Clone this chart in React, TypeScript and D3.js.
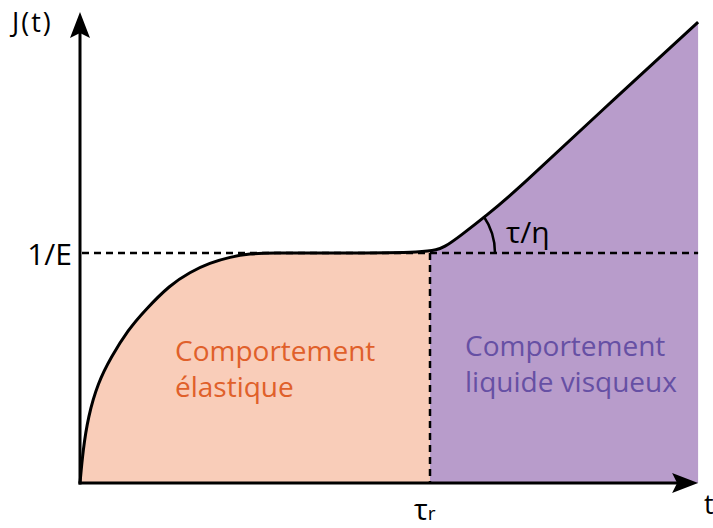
import React, { useEffect, useRef } from 'react';
import * as d3 from 'd3';

// creep compliance J(t) (t in units of tau_r, J in units of 1/E)
const elasticT = [0, 0.0086, 0.023, 0.051, 0.089, 0.137, 0.186, 0.257, 0.314, 0.371, 0.429, 0.486, 0.543, 0.714, 1];
const elasticJ = [0, 0.143, 0.287, 0.435, 0.548, 0.665, 0.752, 0.861, 0.917, 0.957, 0.983, 0.997, 1, 1, 1];
const viscousT = [1, 1.043, 1.086, 1.163, 1.249, 1.486, 1.766];
const viscousJ = [1, 1.026, 1.074, 1.165, 1.274, 1.613, 2.004];

const xAxisMax = 1.766;
const yAxisMax = 2.048;

const elasticLines = ['Comportement', 'élastique'];
const viscousLines = ['Comportement', 'liquide visqueux'];

const W = 713;
const H = 528;
const FONT = '"Open Sans", sans-serif';

const App = () => {
  const svgRef = useRef<SVGSVGElement | null>(null);

  useEffect(() => {
    if (!svgRef.current) return;
    const svg = d3.select(svgRef.current);
    svg.selectAll('*').remove();

    const x = d3.scaleLinear().domain([0, 1]).range([80, 430]);
    const y = d3.scaleLinear().domain([0, 1]).range([483, 253]);

    const elastic = elasticT.map((t, i) => [t, elasticJ[i]] as [number, number]);
    const viscous = viscousT.map((t, i) => [t, viscousJ[i]] as [number, number]);
    const all = elastic.concat(viscous.slice(1));

    const area = d3.area<[number, number]>()
      .x(d => x(d[0]))
      .y0(y(0))
      .y1(d => y(d[1]))
      .curve(d3.curveBasis);

    const line = d3.line<[number, number]>()
      .x(d => x(d[0]))
      .y(d => y(d[1]))
      .curve(d3.curveBasis);

    // fills: one area under the whole curve, clipped left / right of tau_r
    const defs = svg.append('defs');
    defs.append('clipPath').attr('id', 'clip-left')
      .append('rect').attr('x', 0).attr('y', 0).attr('width', x(1)).attr('height', H);
    defs.append('clipPath').attr('id', 'clip-right')
      .append('rect').attr('x', x(1)).attr('y', 0).attr('width', W - x(1)).attr('height', H);

    svg.append('path').attr('d', area(all)).attr('fill', '#f9cdb9').attr('clip-path', 'url(#clip-left)');
    svg.append('path').attr('d', area(all)).attr('fill', '#b89ccb').attr('clip-path', 'url(#clip-right)');

    // dashed guides
    svg.append('line')
      .attr('x1', x(0) + 2).attr('x2', x(xAxisMax))
      .attr('y1', y(1)).attr('y2', y(1))
      .attr('stroke', '#000').attr('stroke-width', 2.5)
      .attr('stroke-dasharray', '7,5');
    svg.append('line')
      .attr('x1', x(1)).attr('x2', x(1))
      .attr('y1', y(1)).attr('y2', y(0))
      .attr('stroke', '#000').attr('stroke-width', 2.5)
      .attr('stroke-dasharray', '7,5');

    // curve
    svg.append('path')
      .attr('d', line(all))
      .attr('fill', 'none')
      .attr('stroke', '#000')
      .attr('stroke-width', 3);

    // angle arc tau/eta
    const arc = d3.path();
    arc.arc(x(1), y(1), 65, 0, -0.6, true);
    svg.append('path')
      .attr('d', arc.toString())
      .attr('fill', 'none')
      .attr('stroke', '#000')
      .attr('stroke-width', 2.5);

    // axes
    svg.append('line')
      .attr('x1', x(0)).attr('x2', x(0))
      .attr('y1', y(0) + 1.5).attr('y2', y(yAxisMax) + 20)
      .attr('stroke', '#000').attr('stroke-width', 3);
    svg.append('line')
      .attr('x1', x(0) - 1.5).attr('x2', x(xAxisMax) - 20)
      .attr('y1', y(0)).attr('y2', y(0))
      .attr('stroke', '#000').attr('stroke-width', 3);

    const ax = x(0);
    const ay = y(yAxisMax);
    svg.append('path')
      .attr('d', `M${ax},${ay} L${ax + 10},${ay + 26} L${ax},${ay + 21} L${ax - 10},${ay + 26} Z`)
      .attr('fill', '#000');
    const bx = x(xAxisMax);
    const by = y(0);
    svg.append('path')
      .attr('d', `M${bx},${by} L${bx - 26},${by - 10} L${bx - 21},${by} L${bx - 26},${by + 10} Z`)
      .attr('fill', '#000');

    // labels
    svg.append('text')
      .attr('x', 12).attr('y', 32)
      .attr('font-family', FONT).attr('font-size', 27)
      .attr('letter-spacing', 2)
      .text('J(t)');
    svg.append('text')
      .attr('x', 72).attr('y', y(1) + 12)
      .attr('text-anchor', 'end')
      .attr('font-family', FONT).attr('font-size', 30)
      .text('1/E');
    svg.append('text')
      .attr('x', 506).attr('y', 243)
      .attr('font-family', FONT).attr('font-size', 30)
      .text('τ/η');

    const tr = svg.append('text')
      .attr('x', 414).attr('y', 520)
      .attr('font-family', FONT).attr('font-size', 29);
    tr.append('tspan').text('τ');
    tr.append('tspan').attr('font-size', 19).text('r');

    svg.append('text')
      .attr('x', 704).attr('y', 514)
      .attr('font-family', FONT).attr('font-size', 27)
      .text('t');

    const block = (lines: string[], x0: number, y0: number, color: string) => {
      lines.forEach((s, i) => {
        svg.append('text')
          .attr('x', x0).attr('y', y0 + i * 35.5)
          .attr('font-family', FONT).attr('font-size', 28)
          .attr('fill', color)
          .text(s);
      });
    };
    block(elasticLines, 175, 361, '#e0602a');
    block(viscousLines, 465, 356, '#6650a4');
  }, []);

  return (
    <svg
      ref={svgRef}
      width={W}
      height={H}
      style={{ position: 'absolute', left: 0, top: 0, background: '#fff', display: 'block' }}
    />
  );
};

export default App;
